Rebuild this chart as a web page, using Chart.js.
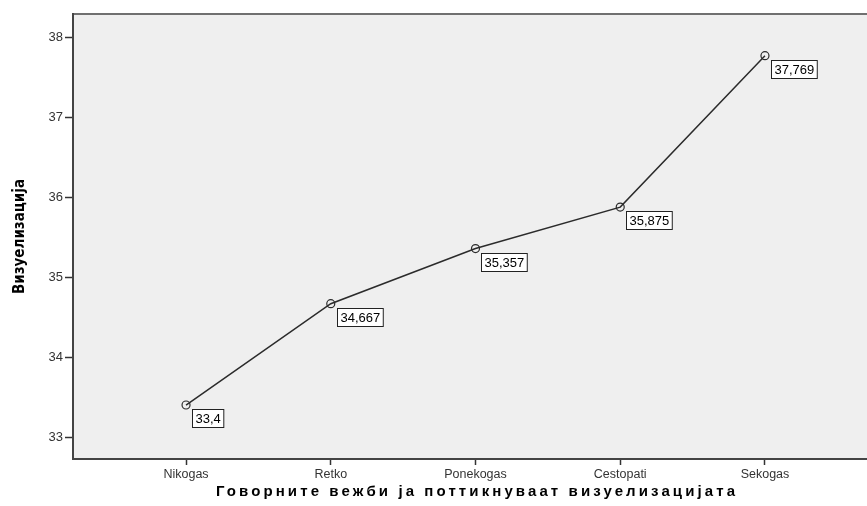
<!DOCTYPE html>
<html>
<head>
<meta charset="utf-8">
<script src="https://cdn.jsdelivr.net/npm/chart.js@4/dist/chart.umd.min.js"></script>
<style>
  html, body { margin: 0; padding: 0; background: #fff; overflow: hidden; }
  canvas { display: block; }
</style>
</head>
<body>
<canvas id="chart" width="867" height="506" style="width:867px;height:506px"></canvas>
<script>
const categories = ['Nikogas', 'Retko', 'Ponekogas', 'Cestopati', 'Sekogas'];
const means = [33.4, 34.667, 35.357, 35.875, 37.769];
const meanLabels = ['33,4', '34,667', '35,357', '35,875', '37,769'];
const yTicks = [33, 34, 35, 36, 37, 38];
const xTitle = 'Говорните вежби ја поттикнуваат визуелизацијата';
const yTitle = 'Визуелизација';

// позадина, горна линија и наслови на оските
const frame = {
  id: 'frame',
  beforeDraw(chart) {
    const { ctx, chartArea: a } = chart;
    ctx.save();
    ctx.fillStyle = '#efefef';
    ctx.fillRect(a.left, a.top, a.right - a.left, a.bottom - a.top);
    ctx.strokeStyle = '#707070';
    ctx.lineWidth = 2;
    ctx.beginPath();
    ctx.moveTo(a.left, a.top);
    ctx.lineTo(a.right, a.top);
    ctx.stroke();
    ctx.restore();
  },
  afterDraw(chart) {
    const { ctx, chartArea: a } = chart;
    ctx.save();
    ctx.fillStyle = '#000';
    ctx.textAlign = 'center';
    ctx.textBaseline = 'middle';
    ctx.font = 'bold 15px "Liberation Sans", Arial, sans-serif';
    ctx.letterSpacing = '3.1px';
    ctx.fillText(xTitle, 477, 492);
    ctx.letterSpacing = '0px';
    ctx.translate(20, (a.top + a.bottom) / 2);
    ctx.rotate(-Math.PI / 2);
    ctx.font = 'bold 15px "Liberation Sans Narrow", "DejaVu Sans Condensed", sans-serif';
    ctx.fillText(yTitle, 0, 0);
    ctx.restore();
  }
};

// рамки со вредностите
const valueBoxes = {
  id: 'valueBoxes',
  afterDatasetsDraw(chart) {
    const { ctx } = chart;
    const meta = chart.getDatasetMeta(0);
    ctx.save();
    ctx.font = '13px "Liberation Sans", Arial, sans-serif';
    ctx.textBaseline = 'middle';
    meta.data.forEach((pt, i) => {
      const txt = meanLabels[i];
      const w = ctx.measureText(txt).width + 6;
      const h = 18;
      const x = Math.round(pt.x + 6) + 0.5;
      const y = Math.round(pt.y + 4) + 0.5;
      ctx.fillStyle = '#fff';
      ctx.fillRect(x, y, w, h);
      ctx.strokeStyle = '#222';
      ctx.lineWidth = 1;
      ctx.strokeRect(x, y, w, h);
      ctx.fillStyle = '#000';
      ctx.fillText(txt, x + 3, y + h / 2 + 1);
    });
    ctx.restore();
  }
};

new Chart(document.getElementById('chart'), {
  type: 'scatter',
  data: {
    datasets: [{
      data: means.map((v, i) => ({ x: i, y: v })),
      showLine: true,
      borderColor: '#2b2b2b',
      borderWidth: 1.5,
      pointRadius: 4,
      pointBorderWidth: 1.2,
      pointBackgroundColor: 'rgba(0,0,0,0)',
      pointBorderColor: '#2b2b2b',
      pointHoverRadius: 4
    }]
  },
  options: {
    responsive: false,
    animation: false,
    layout: { autoPadding: false, padding: { top: 14, right: 0, left: 0, bottom: 0 } },
    plugins: { legend: { display: false }, tooltip: { enabled: false } },
    scales: {
      x: {
        type: 'linear',
        min: -0.781,
        max: 4.705,
        afterBuildTicks: s => { s.ticks = categories.map((c, i) => ({ value: i })); },
        afterFit: s => { s.height = 47; s.paddingLeft = 0; s.paddingRight = 0; },
        ticks: {
          callback: v => categories[v],
          color: '#333',
          font: { size: 12.5, family: '"Liberation Sans", Arial, sans-serif' },
          padding: 2,
          maxRotation: 0
        },
        grid: { drawOnChartArea: false, tickLength: 6, color: '#333', tickWidth: 1.5 },
        border: { color: '#444', width: 2 }
      },
      y: {
        min: 32.725,
        max: 38.29,
        afterBuildTicks: s => { s.ticks = yTicks.map(v => ({ value: v })); },
        afterFit: s => { s.width = 73; s.paddingTop = 0; s.paddingBottom = 0; },
        ticks: {
          color: '#333',
          font: { size: 13, family: '"Liberation Sans", Arial, sans-serif' },
          padding: 2
        },
        grid: { drawOnChartArea: false, tickLength: 8, color: '#333', tickWidth: 1.5 },
        border: { color: '#444', width: 2 }
      }
    }
  },
  plugins: [frame, valueBoxes]
});
</script>
</body>
</html>
